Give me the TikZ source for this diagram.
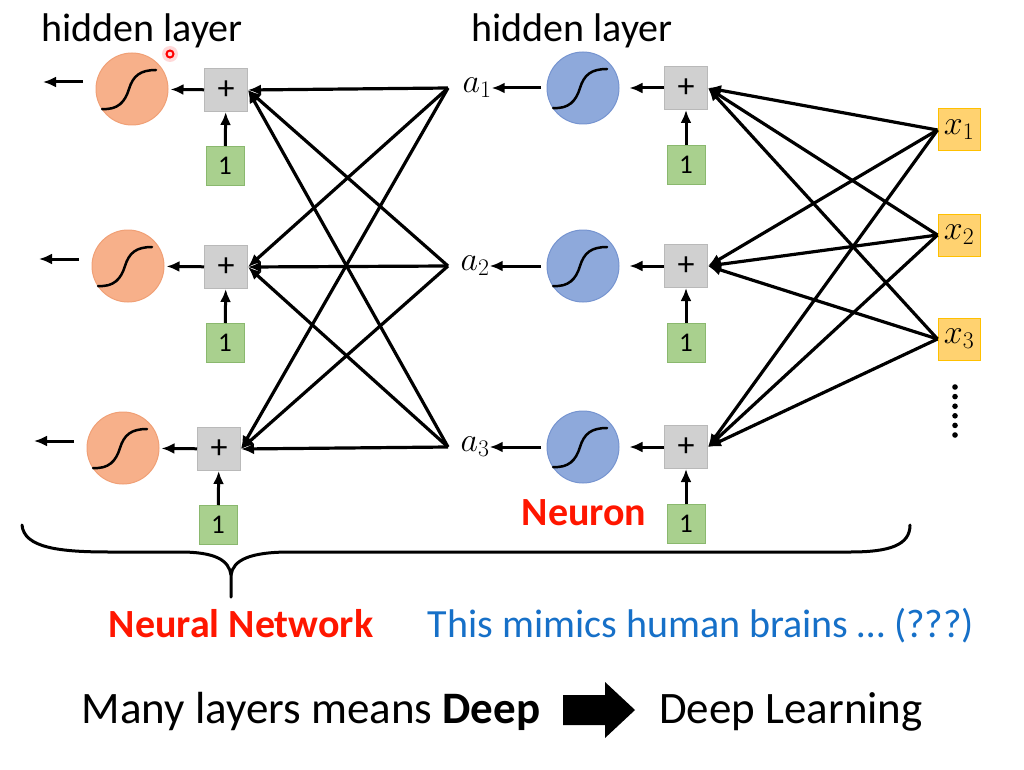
\documentclass[tikz,border=0pt]{standalone}
\usepackage{fix-cm}
\usepackage{fontspec}
\setmainfont{Carlito}
\usepackage{tikz}
\usetikzlibrary{arrows.meta}
\definecolor{sigorange}{RGB}{247,176,138}
\definecolor{sigorangeedge}{RGB}{240,160,118}
\definecolor{sigblue}{RGB}{142,169,219}
\definecolor{sigblueedge}{RGB}{118,148,208}
\definecolor{plusgray}{RGB}{208,208,208}
\definecolor{plusedge}{RGB}{185,185,185}
\definecolor{onegreen}{RGB}{169,208,142}
\definecolor{oneedge}{RGB}{138,184,110}
\definecolor{inyellow}{RGB}{255,210,112}
\definecolor{inedge}{RGB}{255,192,0}
\definecolor{titlered}{RGB}{255,22,0}
\definecolor{mimicblue}{RGB}{22,112,200}
\newcommand{\sigcurve}[1]{%
  \draw[line width=2.5pt, line cap=round] ([shift={(-30,20)}]#1.center)
    .. controls ([shift={(-14,21)}]#1.center) and ([shift={(-7,13)}]#1.center) .. ([shift={(-3,0)}]#1.center)
    .. controls ([shift={(1,-13)}]#1.center) and ([shift={(8,-19)}]#1.center) .. ([shift={(24,-19)}]#1.center);}

\begin{document}
\begin{tikzpicture}[x=1pt,y=-1pt,
    arr/.style={-{Latex[length=13pt,width=11pt]}, line width=3pt},
    link/.style={-{Latex[length=13pt,width=11pt]}, line width=3.2pt},
    neuron/.style={circle, minimum size=72pt, inner sep=0pt, line width=1pt},
    orangesig/.style={neuron, fill=sigorange, draw=sigorangeedge},
    bluesig/.style={neuron, fill=sigblue, draw=sigblueedge},
    plusbox/.style={draw=plusedge, fill=plusgray, minimum size=43pt, inner sep=0pt,
      line width=1pt, font=\fontsize{34}{36}\selectfont},
    onebox/.style={draw=oneedge, fill=onegreen, minimum width=38pt, minimum height=39pt,
      inner sep=0pt, line width=1pt, font=\fontsize{27}{30}\selectfont},
    inbox/.style={draw=inedge, fill=inyellow, minimum size=42pt, inner sep=0pt,
      line width=1pt, font=\fontsize{34}{36}\selectfont},
    alabel/.style={inner sep=0pt, font=\fontsize{34}{36}\selectfont},
    caption/.style={anchor=base, font=\fontsize{40}{44}\selectfont}]
  \useasboundingbox (0,0) rectangle (1024,770);

  % titles
  \node[caption] (title1) at (142,42) {hidden layer};
  \node[caption] (title2) at (572,42) {hidden layer};
  % laser pointer
  \fill[red!15] (170,54) circle (8);
  \draw[red, line width=2pt] (170,54) circle (3.5);

  % outer hidden layer
  \foreach \i/\cx/\px/\y in {1/132/226/89, 2/128/226/266, 3/123/219/448}{
    \node[orangesig] (L\i) at (\cx,\y) {};
    \sigcurve{L\i}
    \node[plusbox] (LP\i) at (\px,\y+1) {+};
    \node[onebox] (LO\i) at (\px-1,\y+77) {1};
    \coordinate (Lout\i) at (\cx-89,\y-7);
    \draw[arr] ([shift={(-49,-7)}]L\i.center) -- (Lout\i);
    \draw[arr, shorten >=2pt] (LP\i) -- (L\i);
    \draw[arr] (LO\i) -- (LP\i);
  }

  % inner hidden layer
  \foreach \i/\ax/\y in {1/477/88, 2/475/266, 3/475/447}{
    \node[bluesig] (B\i) at (583,\y) {};
    \sigcurve{B\i}
    \node[plusbox] (BP\i) at (686,\y) {+};
    \node[onebox] (BO\i) at (686,\y+77) {1};
    \node[alabel] (a\i) at (\ax,\y) {$a_\i$};
    \coordinate (ain\i) at (448,\y);
    \draw[arr, shorten <=6pt] (B\i) -- (a\i);
    \draw[arr, shorten >=10pt] (BP\i) -- (B\i);
    \draw[arr] (BO\i) -- (BP\i);
  }

  % inputs
  \foreach \j/\y in {1/130, 2/235, 3/339}
    \node[inbox] (X\j) at (959,\y) {$x_\j$};
  \foreach \k in {0,...,5}
    \fill (955,387+9.6*\k) circle (2.8);

  % full connections
  \foreach \i in {1,2,3}{
    \foreach \j in {1,2,3}{
      \draw[link] (ain\j) -- (LP\i.east);
      \draw[link] (X\j.west) -- (BP\i.east);
    }
  }

  \node[caption, font=\fontsize{40}{44}\selectfont\bfseries, text=titlered] (neuron) at (584,525) {Neuron};

  % brace
  \draw[line width=3pt, line cap=round] (22,525) .. controls (24,548) and (60,552) .. (110,552)
    -- (180,552) .. controls (215,552) and (229,560) .. (231,575) -- (231,597);
  \draw[line width=3pt, line cap=round] (231,575) .. controls (233,560) and (250,552) .. (290,552)
    -- (850,552) .. controls (890,552) and (910,545) .. (910,525);

  \node[caption, font=\fontsize{40}{44}\selectfont\bfseries, text=titlered] (nn) at (241,637) {Neural Network};
  \node[caption, text=mimicblue] (mimic) at (701,637) {This mimics human brains … (???)};

  % bottom line
  \node[caption, font=\fontsize{45}{50}\selectfont] (many) at (311,723) {Many layers means \textbf{Deep}};
  \fill (563,695) -- (605,695) -- (605,682) -- (635,710) -- (605,738) -- (605,725) -- (563,725) -- cycle;
  \node[caption, font=\fontsize{45}{50}\selectfont] (dl) at (791,723) {Deep Learning};
\end{tikzpicture}
\end{document}
